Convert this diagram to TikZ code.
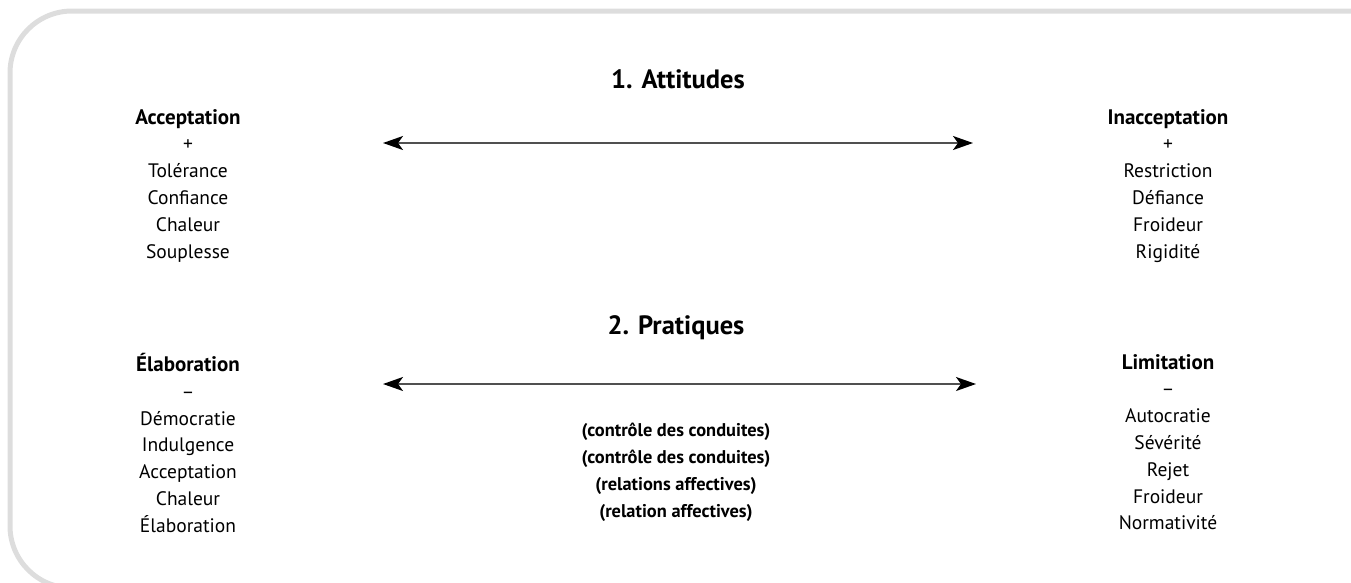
\documentclass[tikz,border=0pt]{standalone}
\usepackage{fontspec}
\setmainfont{PT Sans}
\usetikzlibrary{arrows.meta}
\tikzset{>={Stealth[width=14pt,length=20pt,inset=5pt,color=black]}}
\definecolor{framegray}{HTML}{DDDDDD}
\definecolor{linegray}{HTML}{505050}
\newcommand\tete[1]{{\fontsize{21}{26.8}\selectfont\bfseries #1}}
\tikzset{
  pole/.style={align=center, inner sep=0pt, anchor=north,
    font=\fontsize{19.5}{26.8}\selectfont},
  titre/.style={inner sep=0pt, font=\fontsize{26.5}{30}\selectfont\bfseries},
  axe/.style={<->, line width=1.6pt, draw=linegray},
  cadre/.style={line width=5pt, draw=framegray, rounded corners=62pt},
}

\begin{document}
\begin{tikzpicture}[x=1pt, y=-1pt]

\useasboundingbox (0,0) rectangle (1351,582);

%% cadre gris
\begin{scope}
\clip (0,0) rectangle (1351,582);
\draw[cadre] (1370,11) -- (10,11) -- (10,588) -- (1370,588);
\end{scope}

%% titres
\node[titre] (att) at (678,79) {1. Attitudes};
\node[titre] (prat) at (676,328) {2. Pratiques};

%% attitudes
\node[pole] (acc) at (188,109)
  {\tete{Acceptation}\\+\\Tolérance\\Confiance\\Chaleur\\Souplesse};
\node[pole] (inacc) at (1168,109)
  {\tete{Inacceptation}\\+\\Restriction\\Défiance\\Froideur\\Rigidité};

%% pratiques
\node[pole] (elab) at (188,353)
  {\tete{Élaboration}\\–\\Démocratie\\Indulgence\\Acceptation\\Chaleur\\Élaboration};
\node[pole] (lim) at (1168,354)
  {\tete{Limitation}\\–\\Autocratie\\Sévérité\\Rejet\\Froideur\\Normativité};

\node[pole, font=\fontsize{18.4}{26.8}\selectfont\bfseries] (ctrl) at (676,423)
  {(contrôle des conduites)\\(contrôle des conduites)\\(relations affectives)\\(relation affectives)};

%% axes
\coordinate (a1g) at (383,143);
\coordinate (a1d) at (973,143);
\coordinate (a2g) at (383,384);
\coordinate (a2d) at (976,384);
\draw[axe] (a1g) -- (a1d);
\draw[axe] (a2g) -- (a2d);

\end{tikzpicture}
\end{document}
